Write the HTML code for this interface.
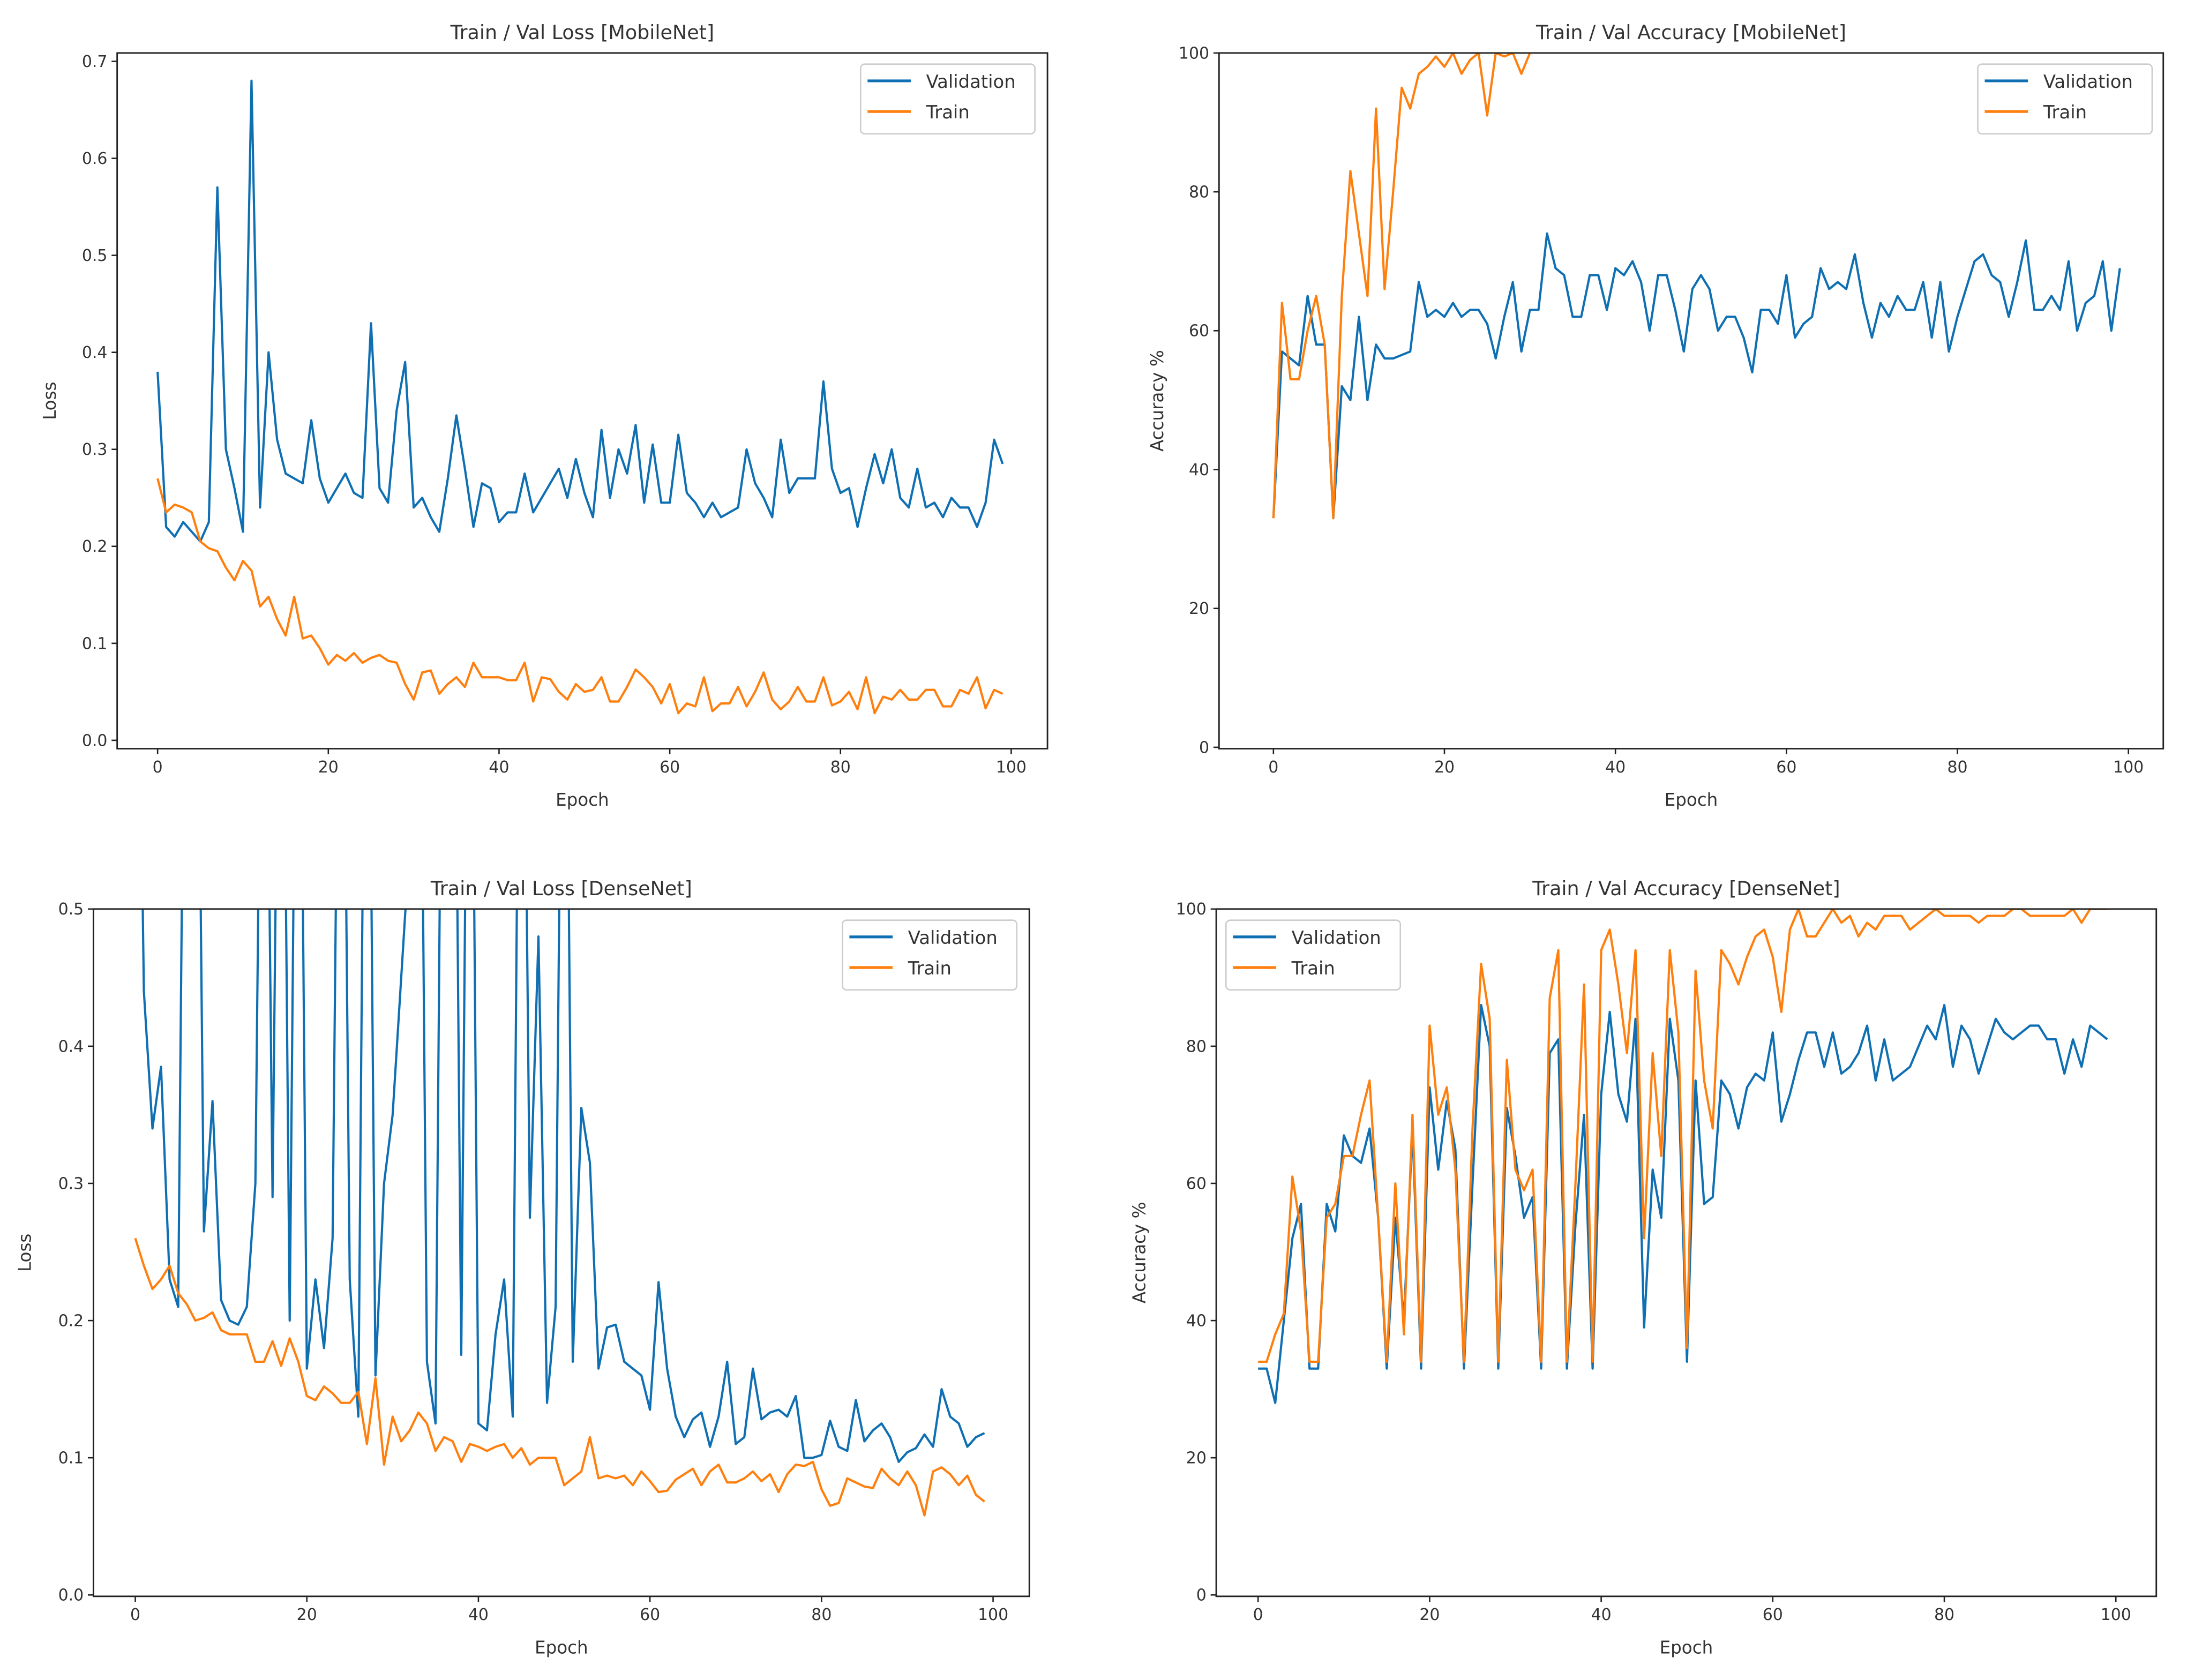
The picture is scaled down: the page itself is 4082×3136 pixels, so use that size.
<!DOCTYPE html>
<html><head><meta charset="utf-8"><style>
html,body{margin:0;padding:0;background:#fff;}
svg{display:block;font-family:"DejaVu Sans","Liberation Sans",sans-serif;}
</style></head><body>
<svg id="fig" width="4082" height="3136" viewBox="0 0 1568 1205" preserveAspectRatio="none" xmlns="http://www.w3.org/2000/svg"></svg>
<script>
const mobLossVal=[0.38,0.22,0.21,0.225,0.215,0.205,0.225,0.57,0.30,0.26,0.215,0.68,0.24,0.40,0.31,0.275,0.27,0.265,0.33,0.27,0.245,0.26,0.275,0.255,0.25,0.43,0.26,0.245,0.34,0.39,0.24,0.25,0.23,0.215,0.27,0.335,0.28,0.22,0.265,0.26,0.225,0.235,0.235,0.275,0.235,0.25,0.265,0.28,0.25,0.29,0.255,0.23,0.32,0.25,0.30,0.275,0.325,0.245,0.305,0.245,0.245,0.315,0.255,0.245,0.23,0.245,0.23,0.235,0.24,0.30,0.265,0.25,0.23,0.31,0.255,0.27,0.27,0.27,0.37,0.28,0.255,0.26,0.22,0.26,0.295,0.265,0.30,0.25,0.24,0.28,0.24,0.245,0.23,0.25,0.24,0.24,0.22,0.245,0.31,0.285];
const mobLossTrain=[0.27,0.235,0.243,0.24,0.235,0.205,0.198,0.195,0.178,0.165,0.185,0.175,0.138,0.148,0.125,0.108,0.148,0.105,0.108,0.095,0.078,0.088,0.082,0.09,0.08,0.085,0.088,0.082,0.08,0.058,0.042,0.07,0.072,0.048,0.058,0.065,0.055,0.08,0.065,0.065,0.065,0.062,0.062,0.08,0.04,0.065,0.063,0.05,0.042,0.058,0.05,0.052,0.065,0.04,0.04,0.055,0.073,0.065,0.055,0.038,0.058,0.028,0.038,0.035,0.065,0.03,0.038,0.038,0.055,0.035,0.05,0.07,0.042,0.032,0.04,0.055,0.04,0.04,0.065,0.036,0.04,0.05,0.032,0.065,0.028,0.045,0.042,0.052,0.042,0.042,0.052,0.052,0.035,0.035,0.052,0.048,0.065,0.033,0.052,0.048];
const mobAccVal=[33,57,56,55,65,58,58,33,52,50,62,50,58,56,56,56.5,57,67,62,63,62,64,62,63,63,61,56,62,67,57,63,63,74,69,68,62,62,68,68,63,69,68,70,67,60,68,68,63,57,66,68,66,60,62,62,59,54,63,63,61,68,59,61,62,69,66,67,66,71,64,59,64,62,65,63,63,67,59,67,57,62,66,70,71,68,67,62,67,73,63,63,65,63,70,60,64,65,70,60,69];
const mobAccTrain=[33,64,53,53,60,65,58,33,65,83,74,65,92,66,80,95,92,97,98,99.5,98,100,97,99,100,91,100,99.5,100,97,100,101,101,101,101,101,101,101,101,101,101,101,101,101,101,101,101,101,101,101,101,101,101,101,101,101,101,101,101,101,101,101,101,101,101,101,101,101,101,101,101,101,101,101,101,101,101,101,101,101,101,101,101,101,101,101,101,101,101,101,101,101,101,101,101,101,101,101,101,101];
const denLossVal=[0.9,0.44,0.34,0.385,0.23,0.21,0.9,0.9,0.265,0.36,0.215,0.2,0.197,0.21,0.3,0.9,0.29,0.9,0.2,0.9,0.165,0.23,0.18,0.26,0.9,0.23,0.13,0.9,0.16,0.3,0.35,0.45,0.55,0.9,0.17,0.125,0.9,0.9,0.175,0.9,0.125,0.12,0.19,0.23,0.13,0.9,0.275,0.48,0.14,0.21,0.9,0.17,0.355,0.315,0.165,0.195,0.197,0.17,0.165,0.16,0.135,0.228,0.165,0.13,0.115,0.128,0.133,0.108,0.13,0.17,0.11,0.115,0.165,0.128,0.133,0.135,0.13,0.145,0.1,0.1,0.102,0.127,0.108,0.105,0.142,0.112,0.12,0.125,0.115,0.097,0.104,0.107,0.117,0.108,0.15,0.13,0.125,0.108,0.115,0.118];
const denLossTrain=[0.26,0.24,0.223,0.23,0.24,0.22,0.212,0.2,0.202,0.206,0.193,0.19,0.19,0.19,0.17,0.17,0.185,0.167,0.187,0.17,0.145,0.142,0.152,0.147,0.14,0.14,0.148,0.11,0.158,0.095,0.13,0.112,0.12,0.133,0.125,0.105,0.115,0.112,0.097,0.11,0.108,0.105,0.108,0.11,0.1,0.107,0.095,0.1,0.1,0.1,0.08,0.085,0.09,0.115,0.085,0.087,0.085,0.087,0.08,0.09,0.083,0.075,0.076,0.084,0.088,0.092,0.08,0.09,0.095,0.082,0.082,0.085,0.09,0.083,0.088,0.075,0.088,0.095,0.094,0.097,0.077,0.065,0.067,0.085,0.082,0.079,0.078,0.092,0.085,0.08,0.09,0.08,0.058,0.09,0.093,0.088,0.08,0.087,0.073,0.068];
const denAccVal=[33,33,28,40,52,57,33,33,57,53,67,64,63,68,55,33,55,40,68,33,74,62,72,65,33,60,86,80,33,71,64,55,58,33,79,81,33,54,70,33,73,85,73,69,84,39,62,55,84,75,34,75,57,58,75,73,68,74,76,75,82,69,73,78,82,82,77,82,76,77,79,83,75,81,75,76,77,80,83,81,86,77,83,81,76,80,84,82,81,82,83,83,81,81,76,81,77,83,82,81];
const denAccTrain=[34,34,38,41,61,53,34,34,55,57,64,64,70,75,55,34,60,38,70,34,83,70,74,62,34,68,92,84,34,78,62,59,62,34,87,94,34,60,89,34,94,97,89,79,94,52,79,64,94,82,36,91,75,68,94,92,89,93,96,97,93,85,97,100,96,96,98,100,98,99,96,98,97,99,99,99,97,98,99,100,99,99,99,99,98,99,99,99,100,100,99,99,99,99,99,100,98,100,100,100];
const lossTicksMob=[0,0.1,0.2,0.3,0.4,0.5,0.6,0.7];
const lossTicksDen=[0,0.1,0.2,0.3,0.4,0.5];
const accTicks=[0,20,40,60,80,100];
const epochTicks=[0,20,40,60,80,100];

const NS="http://www.w3.org/2000/svg";
const fig=document.getElementById('fig');
function mk(tag,attrs,parent){const e=document.createElementNS(NS,tag);for(const k in attrs)e.setAttribute(k,attrs[k]);(parent||fig).appendChild(e);return e;}
const BLUE="#0f6fb3",ORANGE="#ff7f0e",TXT="#333";

function panel(id,cfg){
  const g=mk('g',{});
  
  
  const xs=v=>cfg.x0+(cfg.x1-cfg.x0)*v/100;
  const ys=v=>cfg.y0+(cfg.y1-cfg.y0)*(v-cfg.vmin)/(cfg.vmax-cfg.vmin);
  const cp=mk('clipPath',{id:id+'-clip'},g);
  mk('rect',{x:cfg.L,y:cfg.T,width:cfg.R-cfg.L,height:cfg.B-cfg.T},cp);
  const series=[[cfg.val,BLUE,'validation-line'],[cfg.train,ORANGE,'train-line']];
  for(const [arr,col,nm] of series){
    const d=arr.map((v,i)=>(i?'L':'M')+xs(i).toFixed(2)+' '+ys(v).toFixed(2)).join(' ');
    const p=mk('path',{d:d,fill:'none',stroke:col,'stroke-width':1.6,'stroke-linejoin':'round','clip-path':'url(#'+id+'-clip)'},g);
    
    
  }
  const frame=mk('rect',{x:cfg.L,y:cfg.T,width:cfg.R-cfg.L,height:cfg.B-cfg.T,fill:'none',stroke:'#222','stroke-width':1.1},g);
  
  
  for(const t of cfg.yticks){
    const y=ys(t);
    mk('line',{x1:cfg.L-4,x2:cfg.L,y1:y,y2:y,stroke:'#222','stroke-width':1},g);
    const tx=mk('text',{x:cfg.L-7,y:y+4,'text-anchor':'end','font-size':11.5,fill:TXT},g);
    tx.textContent=cfg.fmt(t);
    
    
  }
  for(const t of epochTicks){
    const x=xs(t);
    mk('line',{x1:x,x2:x,y1:cfg.B,y2:cfg.B+4,stroke:'#222','stroke-width':1},g);
    const tx=mk('text',{x:x,y:cfg.B+17,'text-anchor':'middle','font-size':11.5,fill:TXT},g);
    tx.textContent=t;
    
    
  }
  const ti=mk('text',{x:(cfg.L+cfg.R)/2,y:cfg.T-10,'text-anchor':'middle','font-size':14,fill:TXT},g);
  ti.textContent=cfg.title;
  
  
  const xl=mk('text',{x:(cfg.L+cfg.R)/2,y:cfg.B+41,'text-anchor':'middle','font-size':12.5,fill:TXT},g);
  xl.textContent='Epoch';
  
  
  const yl=mk('text',{x:0,y:0,'text-anchor':'middle','font-size':12.5,fill:TXT,transform:'translate('+cfg.ylx+','+((cfg.T+cfg.B)/2)+') rotate(-90)'},g);
  yl.textContent=cfg.ylabel;
  
  
  const lg=mk('g',{},g);
  
  
  mk('rect',{x:cfg.lx,y:cfg.T+8,width:125,height:50,rx:3,fill:'#fff',stroke:'#ccc','stroke-width':1},lg);
  const ents=[['Validation',BLUE],['Train',ORANGE]];
  ents.forEach(([lab,col],i)=>{
    const yy=cfg.T+20+i*22;
    const en=mk('g',{},lg);
    
    
    mk('line',{x1:cfg.lx+5,x2:cfg.lx+36,y1:yy,y2:yy,stroke:col,'stroke-width':2},en);
    const t=mk('text',{x:cfg.lx+47,y:yy+5,'font-size':13,fill:TXT},en);
    t.textContent=lab;
  });
}
panel('mobilenet-loss',{L:84,R:751,T:38,B:537,x0:113,x1:725,y0:531,y1:44,vmin:0,vmax:0.7,yticks:lossTicksMob,fmt:v=>v.toFixed(1),val:mobLossVal,train:mobLossTrain,title:'Train / Val Loss [MobileNet]',ylabel:'Loss',ylx:40,lx:617});
panel('mobilenet-acc',{L:874,R:1551,T:38,B:537,x0:913,x1:1526,y0:536,y1:38,vmin:0,vmax:100,yticks:accTicks,fmt:v=>String(v),val:mobAccVal,train:mobAccTrain,title:'Train / Val Accuracy [MobileNet]',ylabel:'Accuracy %',ylx:834,lx:1418});
panel('densenet-loss',{L:67,R:738,T:652,B:1145,x0:97,x1:712,y0:1144,y1:652,vmin:0,vmax:0.5,yticks:lossTicksDen,fmt:v=>v.toFixed(1),val:denLossVal,train:denLossTrain,title:'Train / Val Loss [DenseNet]',ylabel:'Loss',ylx:22,lx:604});
panel('densenet-acc',{L:872,R:1546,T:652,B:1145,x0:902,x1:1517,y0:1144,y1:652,vmin:0,vmax:100,yticks:accTicks,fmt:v=>String(v),val:denAccVal,train:denAccTrain,title:'Train / Val Accuracy [DenseNet]',ylabel:'Accuracy %',ylx:821,lx:879});
</script>
</body></html>
